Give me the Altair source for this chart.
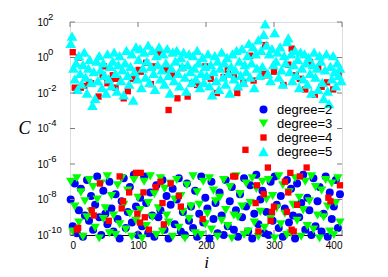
import altair as alt
import pandas as pd

# ---------------- data (log10 of C) ----------------
i_grid3 = list(range(1, 400, 3))   # 133 indices for degree 2 and 3
i_grid2 = list(range(1, 400, 2))   # 200 indices for degree 5

deg2_logC = [
    -8.0, -9.5, -7.1, -9.9, -8.6, -7.4, -10.1, -8.9, -6.9, -9.2,
    -7.8, -9.7, -8.3, -6.7, -9.0, -10.0, -7.5, -8.8, -9.4, -7.0,
    -8.5, -9.8, -7.7, -9.1, -10.2, -8.1, -6.8, -9.6, -8.7, -7.3,
    -9.3, -6.6, -8.4, -10.0, -7.9, -9.5, -6.7, -8.2, -9.9, -7.6,
    -8.9, -10.1, -7.2, -9.0, -8.6, -6.9, -9.7, -7.8, -10.2, -8.3,
    -7.4, -9.4, -8.0, -6.8, -9.8, -8.7, -10.0, -7.1, -9.2, -8.4,
    -9.6, -7.5, -10.1, -8.8, -6.7, -9.3, -7.9, -8.5, -10.2, -7.0,
    -9.1, -8.2, -9.9, -7.6, -8.9, -10.0, -6.9, -9.5, -8.1, -7.3,
    -9.7, -8.6, -10.1, -7.7, -9.0, -6.8, -8.4, -9.8, -7.2, -10.2,
    -8.8, -6.6, -9.4, -8.0, -7.5, -9.9, -8.7, -10.0, -7.0, -9.2,
    -6.7, -8.3, -9.6, -7.8, -10.1, -8.5, -6.9, -9.3, -7.4, -8.9,
    -10.2, -7.1, -9.0, -8.2, -6.6, -9.7, -7.9, -8.6, -10.0, -6.8,
    -9.5, -8.1, -7.3, -9.8, -8.8, -6.7, -10.1, -7.6, -9.1, -8.4,
    -6.9, -9.6, -7.7,
]

deg3_logC = [
    -7.0, -9.8, -8.4, -6.8, -9.3, -7.6, -10.1, -8.1, -9.0, -6.9,
    -8.7, -7.3, -9.6, -8.0, -10.2, -7.1, -9.1, -8.5, -6.7, -9.9,
    -7.8, -8.9, -10.0, -7.2, -9.4, -6.8, -8.3, -9.7, -7.5, -8.8,
    -10.1, -6.9, -9.2, -7.9, -8.6, -10.2, -7.0, -9.5, -8.2, -6.7,
    -9.0, -7.7, -10.0, -8.5, -6.8, -9.8, -7.4, -8.9, -9.3, -7.1,
    -10.1, -8.0, -6.9, -9.6, -7.8, -8.7, -10.2, -7.2, -9.1, -8.4,
    -6.7, -9.9, -7.6, -8.3, -10.0, -7.0, -9.4, -8.8, -6.8, -9.7,
    -7.5, -8.1, -10.1, -7.9, -9.2, -6.9, -8.6, -9.5, -7.3, -10.2,
    -8.9, -6.7, -9.0, -7.7, -8.4, -10.0, -7.1, -9.8, -8.2, -6.8,
    -9.3, -7.4, -10.1, -8.7, -7.0, -9.6, -8.0, -6.9, -9.1, -7.8,
    -10.2, -8.5, -6.7, -9.4, -7.2, -8.8, -10.0, -7.6, -9.9, -8.3,
    -6.8, -9.2, -7.9, -10.1, -8.6, -7.0, -9.5, -8.1, -6.7, -9.7,
    -7.3, -8.9, -10.2, -7.5, -9.0, -6.9, -8.4, -9.8, -7.1, -10.0,
    -8.2, -6.8, -9.3,
]

deg4_i = [
    # lower cluster
    10, 12, 32, 35, 44, 57, 73, 76, 78, 87, 97, 99, 103, 104, 108, 110,
    116, 126, 133, 136, 138, 148, 160, 163, 195, 240, 243, 258, 273, 275,
    277, 285, 291, 295, 297, 300, 316, 319, 321, 324, 326, 329, 334, 338,
    348, 380, 383, 397,
    # upper cluster
    4, 7, 13, 16, 21, 28, 31, 42, 48, 50, 55, 63, 65, 67, 70, 79, 85, 92,
    101, 104, 112, 119, 122, 131, 141, 145, 150, 158, 165, 173, 180, 187,
    199, 207, 216, 226, 232, 241, 246, 255, 265, 270, 285, 287, 289, 300,
    314, 321, 326, 332, 338, 346, 353, 360, 365, 370, 378, 387, 395,
]
deg4_logC = [
    -9.7, -9.6, -8.6, -8.9, -7.1, -9.2, -6.7, -8.5, -8.1, -7.6, -6.5, -8.8,
    -9.3, -6.5, -7.6, -9.0, -9.7, -7.3, -7.0, -8.2, -9.4, -7.1, -7.8, -8.4,
    -9.1, -6.7, -6.7, -5.2, -8.2, -7.2, -9.8, -7.7, -6.2, -9.2, -8.7, -8.4,
    -7.0, -8.7, -7.6, -6.5, -9.7, -9.8, -8.3, -6.7, -6.2, -7.9, -8.1, -7.2,
    0.3, -1.7, 0.0, -1.7, -1.6, -1.4, -1.45, -2.2, -1.0, -0.5, -1.45, -1.0,
    -1.2, -1.7, -1.2, -2.3, -1.9, -1.2, -0.7, -0.8, -0.3, -1.5, -0.5, 0.25,
    -0.7, -2.96, -1.0, -2.3, -0.6, -2.2, -1.45, -1.55, -0.5, -1.2, -2.0,
    -1.1, -0.7, -1.0, -2.0, -1.4, 0.1, -1.3, -0.9, 0.7, -1.0, -0.8, -1.55,
    -0.4, 0.5, -1.0, -1.2, -1.8, -0.25, -2.1, -0.6, -1.65, -1.4, -1.8, -0.9,
]

deg5_logC = [
    0.8, 1.2, -0.6, -1.2, -0.3, -1.8, 0.1, -0.9, -1.5, -0.4,
    0.3, -1.1, -2.0, -0.6, -0.1, -1.4, -2.7, -0.8, -2.3, -0.2,
    -1.3, 0.1, -0.7, -1.7, -0.3, -1.0, -2.0, 0.2, -1.2, -0.5,
    -1.6, -0.2, 0.3, -0.9, -1.9, -0.4, 0.1, -1.3, -0.7, -2.1,
    -0.3, 0.4, -1.0, -1.5, -0.5, 0.2, -2.4, -0.8, 0.6, -1.2,
    -0.1, 0.5, -1.7, -0.6, 0.3, -1.1, -0.2, 0.7, -1.4, -0.5,
    0.4, -0.9, -1.8, 0.1, -0.4, 0.6, -1.2, -0.7, 0.2, -1.5,
    -0.3, 0.5, -1.0, -2.0, -0.6, 0.3, -1.3, -0.2, 0.4, -0.9,
    -1.6, 0.0, -0.5, 0.3, -1.1, -1.9, -0.4, 0.2, -0.8, -1.4,
    0.1, -0.6, -1.2, 0.4, -0.3, -1.7, -0.9, 0.0, -1.4, -0.5,
    -1.0, 0.2, -1.6, -0.4, -2.1, -0.8, 0.1, -1.3, -0.2, -1.8,
    -0.6, 0.3, -1.1, -0.3, -1.5, 0.0, -0.9, -2.0, -0.5, 0.2,
    -1.2, -0.7, 0.4, -1.6, -0.2, -1.0, 0.5, -1.4, -0.4, -0.8,
    0.1, 0.8, -1.1, -0.3, 0.6, -1.7, 0.2, -0.6, 1.0, -1.0,
    0.4, -0.5, 1.3, 1.9, 0.7, -0.9, 0.2, -1.3, 0.5, -0.4,
    1.4, -0.2, 0.3, -1.1, 0.6, -0.7, -1.5, 0.1, -0.3, 0.9,
    1.1, -0.8, 0.2, -1.3, -0.4, 0.4, -1.0, -0.1, -1.7, 0.3,
    -0.6, -1.2, 0.2, -0.3, -1.5, 0.0, -0.9, -2.0, -0.4, 0.3,
    -1.1, -0.6, -1.8, 0.1, -0.2, -1.4, -2.3, -0.7, 0.2, -1.9,
    -2.6, -0.5, -1.2, 0.1, -0.8, -1.6, -0.3, -1.0, -0.6, -1.3,
]

series_names = ["degree=2", "degree=3", "degree=4", "degree=5"]
series_colors = ["#0000ff", "#00ff00", "#ff0000", "#00ffff"]
series_shapes = ["circle", "triangle-down", "square", "triangle-up"]
series_sizes = [64, 88, 40, 115]

x_tick_values = [0, 100, 200, 300, 400]
y_tick_exps = [-10, -8, -6, -4, -2, 0, 2]
y_tick_base = "10"
y_tick_exp_labels = ["-10", "-8", "-6", "-4", "-2", "0", "2"]

# ---------------- table ----------------
rows = []
for name, xs, ys in [
    ("degree=2", i_grid3, deg2_logC),
    ("degree=3", i_grid3, deg3_logC),
    ("degree=4", deg4_i, deg4_logC),
    ("degree=5", i_grid2, deg5_logC),
]:
    for xv, yv in zip(xs, ys):
        rows.append({"i": xv, "C": 10.0 ** yv, "degree": name})
df = pd.DataFrame(rows)

W, H = 272, 213
FONT = "Liberation Sans"
FRAME = "#7a7a7a"

y_values = [10.0 ** e for e in y_tick_exps]

x_scale = alt.Scale(domain=[0, 400], nice=False, zero=False)
y_scale = alt.Scale(type="log", domain=[1e-10, 1e2], nice=False)

points = alt.Chart(df).mark_point(filled=True, opacity=1, strokeWidth=0).encode(
    x=alt.X("i:Q", scale=x_scale,
            axis=alt.Axis(values=x_tick_values, title="i", ticks=False,
                          labelPadding=5, grid=False,
                          domainColor="#000000", domainWidth=1.2,
                          titleX=136, titleY=27,
                          titleAlign="center", titleBaseline="middle",
                          titleFont="Liberation Serif", titleFontStyle="italic",
                          titleFontWeight="normal", titleFontSize=17)),
    y=alt.Y("C:Q", scale=y_scale,
            axis=alt.Axis(values=y_values, labelExpr=f"'{y_tick_base}'",
                          title="C",
                          ticks=False, labelPadding=22, grid=False,
                          domain=False, titleAngle=0,
                          titleX=-46, titleY=106, titleAlign="center",
                          titleBaseline="middle",
                          titleFont="Liberation Serif", titleFontStyle="italic",
                          titleFontWeight="normal", titleFontSize=18)),
    color=alt.Color("degree:N",
                    scale=alt.Scale(domain=series_names, range=series_colors),
                    legend=alt.Legend(title=None, orient="none", legendX=187,
                                      legendY=81, padding=0, labelFont=FONT,
                                      labelFontSize=13, labelOffset=7,
                                      rowPadding=0, labelColor="#000000")),
    shape=alt.Shape("degree:N",
                    scale=alt.Scale(domain=series_names, range=series_shapes)),
    size=alt.Size("degree:N",
                  scale=alt.Scale(type="ordinal", domain=series_names,
                                  range=series_sizes)),
)

exp_df = pd.DataFrame({"C": y_values, "exp": y_tick_exp_labels})
exponents = alt.Chart(exp_df).mark_text(
    align="left", baseline="middle", font=FONT, fontSize=9.5, dy=-5.5,
    color="#000000",
).encode(y=alt.Y("C:Q"), x=alt.value(-22), text="exp:N")

tick_df = pd.DataFrame({"i": x_tick_values})
ytick_df = pd.DataFrame({"C": y_values})

xt_bottom = alt.Chart(tick_df).mark_rule(color=FRAME, strokeWidth=1).encode(
    x=alt.X("i:Q"), y=alt.value(H), y2=alt.value(H - 5))
xt_top = alt.Chart(tick_df).mark_rule(color=FRAME, strokeWidth=1).encode(
    x=alt.X("i:Q"), y=alt.value(0), y2=alt.value(5))
yt_left = alt.Chart(ytick_df).mark_rule(color=FRAME, strokeWidth=1).encode(
    y=alt.Y("C:Q"), x=alt.value(0), x2=alt.value(5))
yt_right = alt.Chart(ytick_df).mark_rule(color=FRAME, strokeWidth=1).encode(
    y=alt.Y("C:Q"), x=alt.value(W), x2=alt.value(W - 5))

chart = alt.layer(points, exponents, xt_bottom, xt_top, yt_left, yt_right).properties(
    width=W, height=H,
    autosize=alt.AutoSizeParams(type="none"),
    padding={"left": 62, "top": 14, "right": 30, "bottom": 40},
).configure_view(
    stroke=FRAME, strokeWidth=1.5
).configure_axis(
    labelFont=FONT, labelFontSize=14, labelColor="#000000",
).configure(background="white")

chart.save("out.html", embed_options={"renderer": "svg", "actions": False})
